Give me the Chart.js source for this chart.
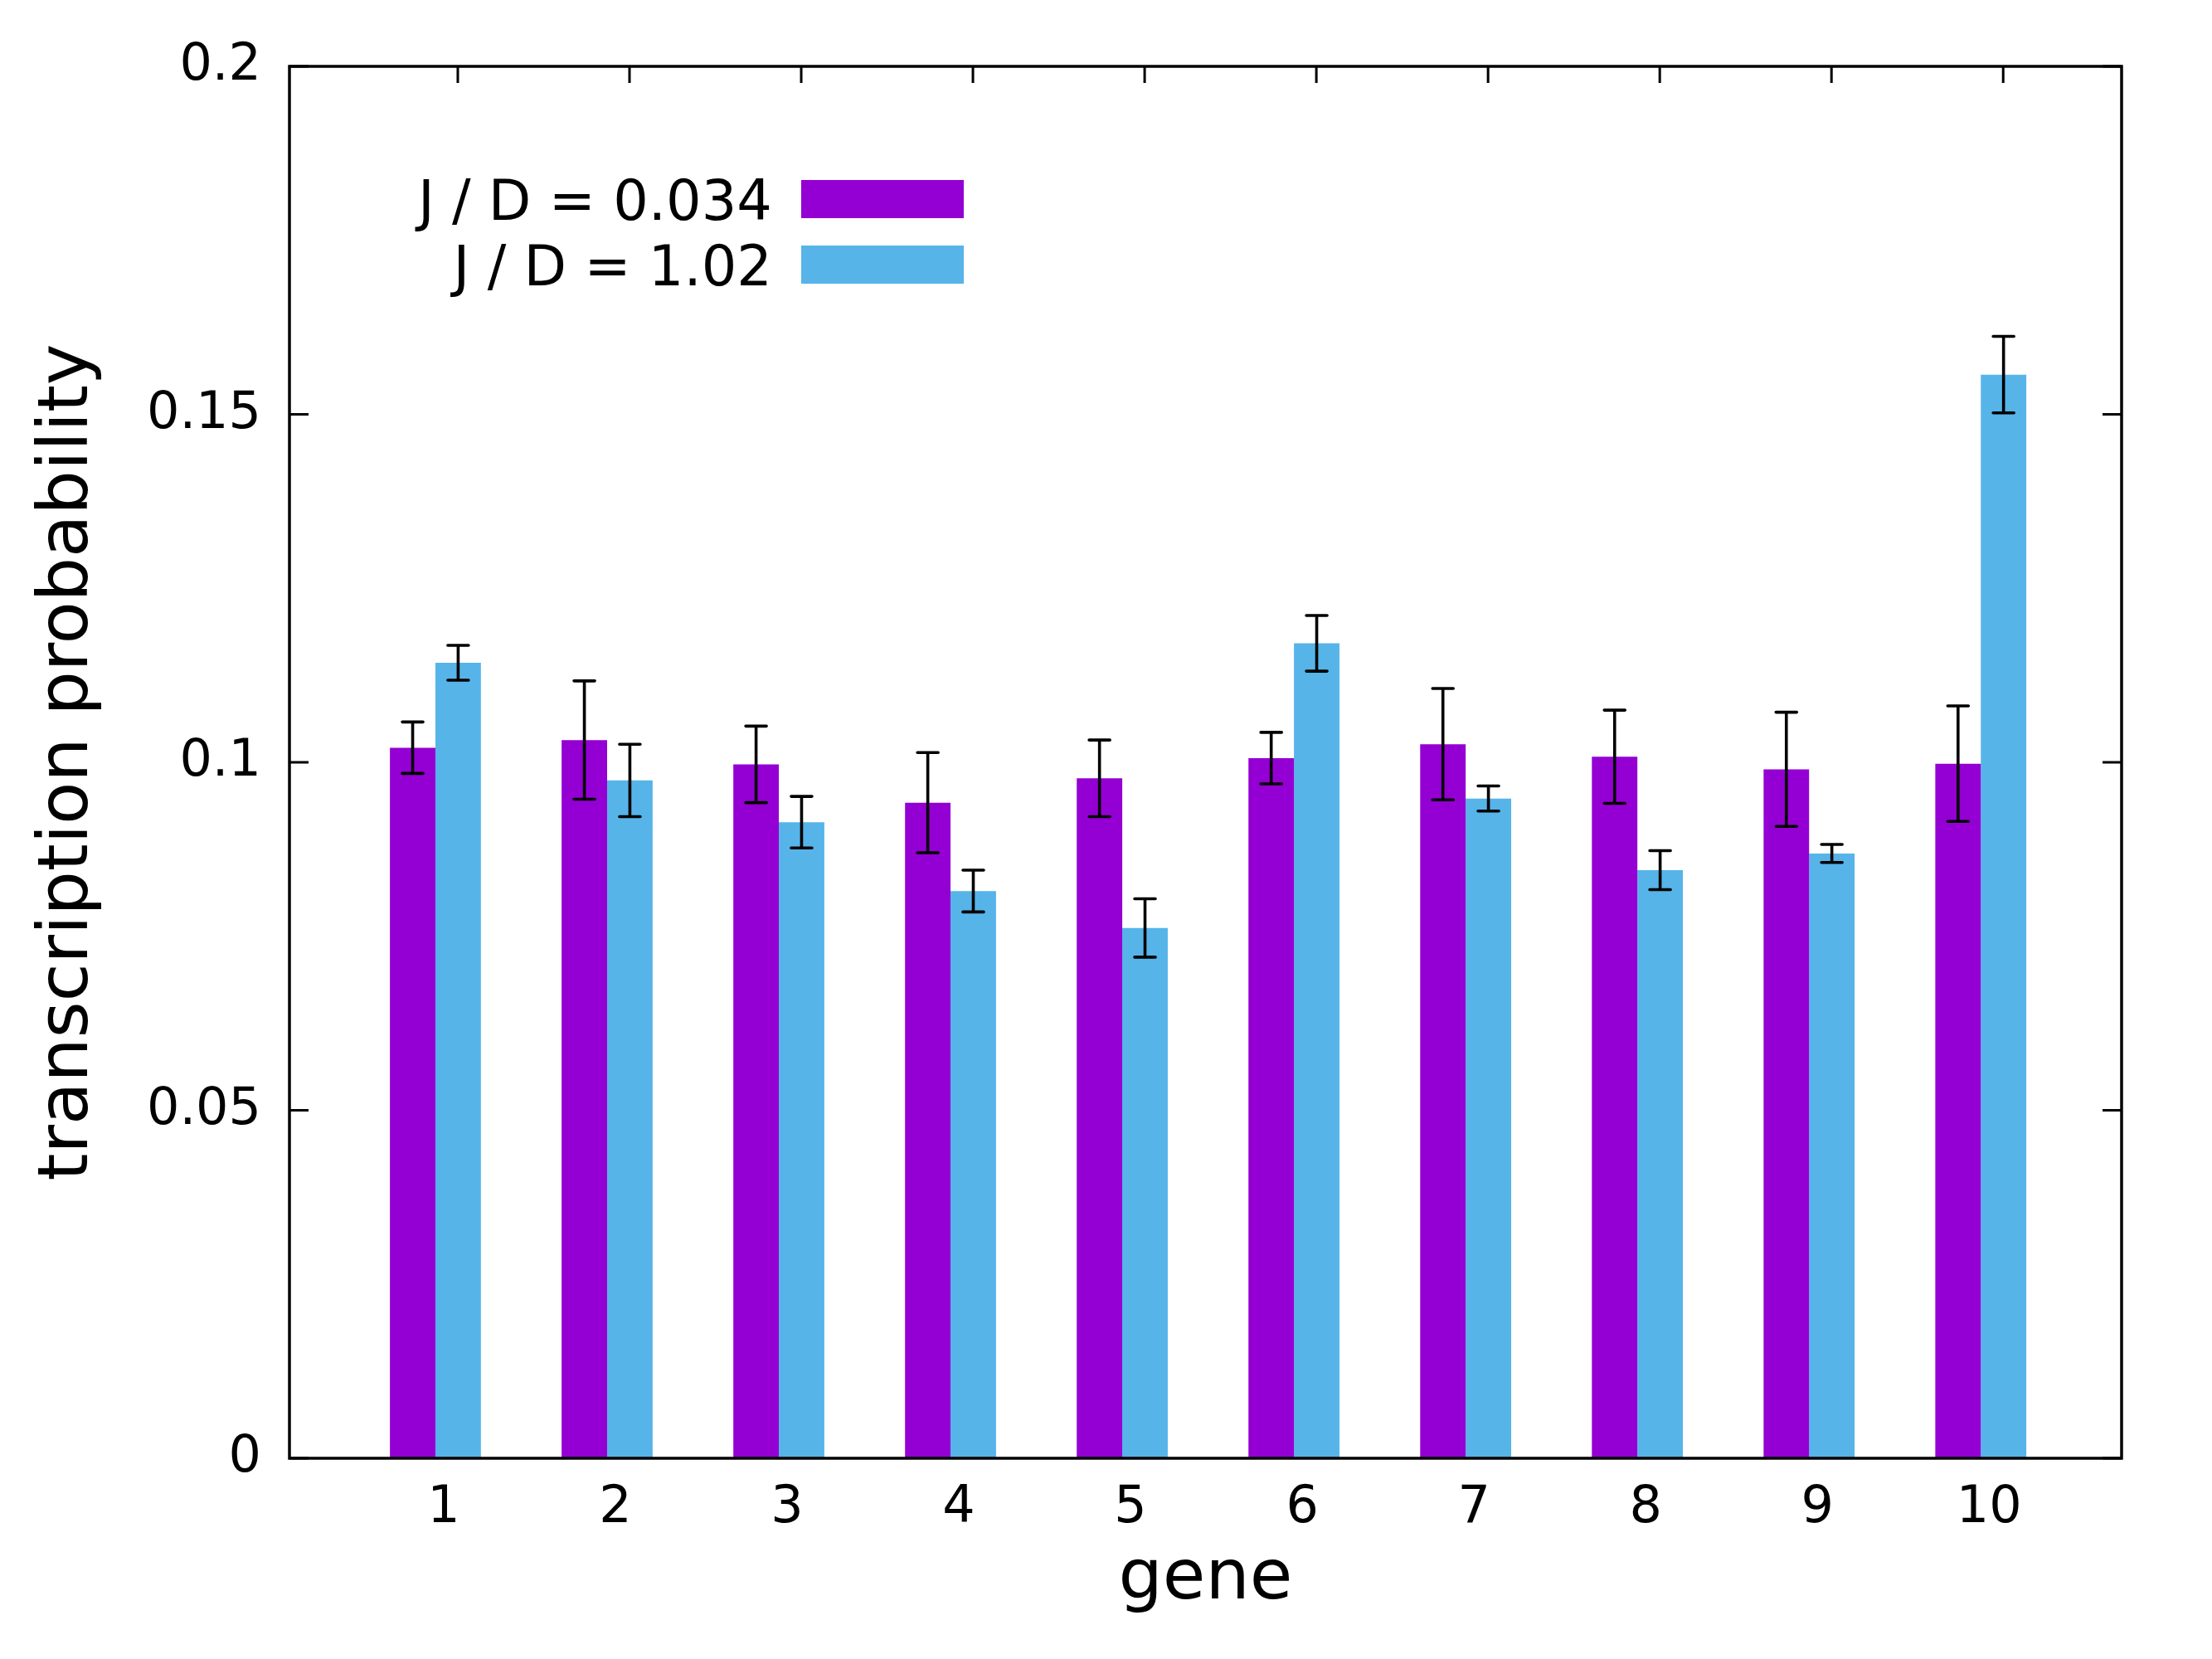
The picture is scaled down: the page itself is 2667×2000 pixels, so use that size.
<!DOCTYPE html>
<html>
<head>
<meta charset="utf-8">
<script src="https://cdn.jsdelivr.net/npm/chart.js@4"></script>
<style>
  html, body { margin: 0; padding: 0; background: #fff; }
  canvas { display: block; }
</style>
</head>
<body>
<canvas id="chart" width="2667" height="2000"></canvas>
<script>
const genes = [1, 2, 3, 4, 5, 6, 7, 8, 9, 10];
const yTicks = [0, 0.05, 0.1, 0.15, 0.2];

const seriesLabels = ['J / D = 0.034', 'J / D = 1.02'];
const seriesColors = ['#9400d3', '#56b4e9'];

const lowJ = [0.1021, 0.1032, 0.0997, 0.0942, 0.0977, 0.1006, 0.1026, 0.1008, 0.0990, 0.0998];
const lowJErr = [0.0037, 0.0085, 0.0055, 0.0072, 0.0055, 0.0037, 0.0080, 0.0067, 0.0082, 0.0083];
const highJ = [0.1143, 0.0974, 0.0914, 0.0815, 0.0762, 0.1171, 0.0948, 0.0845, 0.0869, 0.1557];
const highJErr = [0.0025, 0.0052, 0.0037, 0.0030, 0.0042, 0.0040, 0.0018, 0.0028, 0.0013, 0.0055];

const errs = [lowJErr, highJErr];
const FONT = "'DejaVu Sans', sans-serif";

// gnuplot-like border with inward mirror tics
const frame = {
  id: 'frame',
  beforeDatasetsDraw(chart) {
    const { ctx, chartArea: a, scales } = chart;
    ctx.save();
    ctx.strokeStyle = '#000';
    ctx.lineWidth = 3;
    ctx.beginPath();
    scales.y.ticks.forEach(t => {
      const py = scales.y.getPixelForValue(t.value);
      ctx.moveTo(a.left, py); ctx.lineTo(a.left + 23, py);
      ctx.moveTo(a.right, py); ctx.lineTo(a.right - 23, py);
    });
    genes.forEach(g => {
      const px = scales.x.getPixelForValue(g) + 27;
      ctx.moveTo(px, a.top); ctx.lineTo(px, a.top + 20);
      ctx.moveTo(px, a.bottom); ctx.lineTo(px, a.bottom - 20);
    });
    ctx.stroke();
    ctx.restore();
  },
  afterDatasetsDraw(chart) {
    const { ctx, chartArea: a } = chart;
    ctx.save();
    ctx.strokeStyle = '#000';
    ctx.lineWidth = 3.5;
    ctx.strokeRect(a.left, a.top, a.right - a.left, a.bottom - a.top);
    ctx.restore();
  }
};

const errorBars = {
  id: 'errorBars',
  afterDatasetsDraw(chart) {
    const ctx = chart.ctx, y = chart.scales.y;
    ctx.save();
    ctx.strokeStyle = '#000';
    ctx.lineWidth = 3.6;
    ctx.lineCap = 'round';
    chart.data.datasets.forEach((ds, i) => {
      chart.getDatasetMeta(i).data.forEach((bar, j) => {
        const v = ds.data[j].y, e = errs[i][j];
        const top = y.getPixelForValue(v + e), bot = y.getPixelForValue(v - e);
        ctx.beginPath();
        ctx.moveTo(bar.x, top); ctx.lineTo(bar.x, bot);
        ctx.moveTo(bar.x - 12.5, top); ctx.lineTo(bar.x + 12.5, top);
        ctx.moveTo(bar.x - 12.5, bot); ctx.lineTo(bar.x + 12.5, bot);
        ctx.stroke();
      });
    });
    ctx.restore();
  }
};

// key at top left: text right-aligned, colour box to the right
const keyBox = {
  id: 'keyBox',
  afterDraw(chart) {
    const ctx = chart.ctx;
    ctx.save();
    ctx.font = '67px ' + FONT;
    ctx.textAlign = 'right';
    ctx.textBaseline = 'alphabetic';
    chart.data.datasets.forEach((ds, i) => {
      const cy = 240 + i * 79;
      ctx.fillStyle = '#000';
      ctx.fillText(ds.label, 931, cy + 25);
      ctx.fillStyle = ds.backgroundColor;
      ctx.fillRect(966, cy - 23, 196, 46);
    });
    ctx.restore();
  }
};

const data = {
  datasets: [
    {
      label: seriesLabels[0],
      backgroundColor: seriesColors[0],
      data: genes.map((g, j) => ({ x: g, y: lowJ[j] })),
    },
    {
      label: seriesLabels[1],
      backgroundColor: seriesColors[1],
      data: genes.map((g, j) => ({ x: g, y: highJ[j] })),
    },
  ],
};

const config = {
  type: 'bar',
  data: data,
  plugins: [frame, errorBars, keyBox],
  options: {
    responsive: false,
    animation: false,
    devicePixelRatio: 1,
    categoryPercentage: 0.53,
    barPercentage: 1,
    borderWidth: 0,
    layout: {
      padding: { top: 80, right: 109, bottom: 0, left: 0 },
    },
    plugins: {
      legend: { display: false },
      tooltip: { enabled: false },
    },
    scales: {
      x: {
        type: 'linear',
        min: 0.15,
        max: 10.82,
        offset: false,
        grid: { display: false, drawTicks: false },
        border: { display: false },
        afterBuildTicks: s => { s.ticks = genes.map(v => ({ value: v })); },
        afterFit: s => { s.height = 242; },
        ticks: {
          padding: 24,
          labelOffset: 10,
          color: '#000',
          font: { family: FONT, size: 62 },
          callback: v => String(v),
        },
        title: {
          display: true,
          text: 'gene',
          color: '#000',
          font: { family: FONT, size: 84 },
          padding: { top: 0, bottom: 44 },
        },
      },
      y: {
        min: 0,
        max: 0.2,
        grid: { display: false, drawTicks: false },
        border: { display: false },
        afterBuildTicks: s => { s.ticks = yTicks.map(v => ({ value: v })); },
        afterFit: s => { s.width = 349; },
        ticks: {
          padding: 34,
          color: '#000',
          font: { family: FONT, size: 62 },
          callback: v => String(v),
        },
        title: {
          display: true,
          text: 'transcription probability',
          color: '#000',
          font: { family: FONT, size: 84 },
          padding: { top: 33, bottom: 0 },
        },
      },
    },
  },
};

const myChart = new Chart(document.getElementById('chart'), config);
</script>
</body>
</html>
